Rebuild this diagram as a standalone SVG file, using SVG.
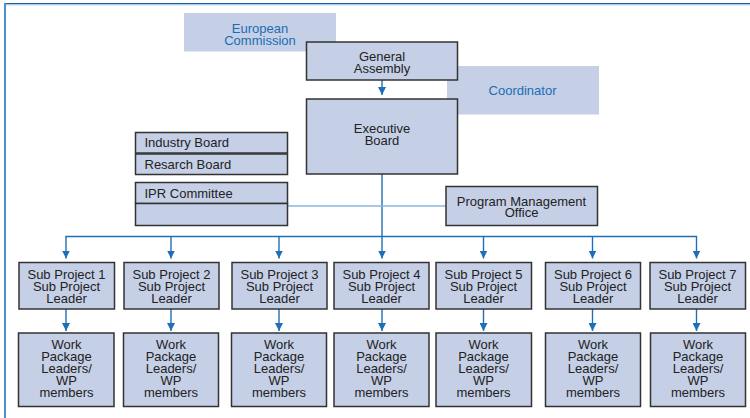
<svg xmlns="http://www.w3.org/2000/svg" width="750" height="418" viewBox="0 0 750 418">
<defs>
<style>
.box{fill:#c5cfe6;stroke:#333;stroke-width:1.5}
.pane{fill:#c5cfe6;stroke:none}
.t{font-family:"Liberation Sans",Arial,sans-serif;font-size:13px;fill:#222;text-anchor:middle}
.tl{font-family:"Liberation Sans",Arial,sans-serif;font-size:13px;fill:#222}
.tb{font-family:"Liberation Sans",Arial,sans-serif;font-size:13px;fill:#1a6db4;text-anchor:middle}
.c{stroke:#1f6fb6;stroke-width:1.4;fill:none}
.cl{stroke:#86b6dd;stroke-width:1.4;fill:none}
</style>
<marker id="ah" markerUnits="userSpaceOnUse" markerWidth="10" markerHeight="8" refX="8" refY="4" orient="auto">
<path d="M0,0 L8,4 L0,8 Z" fill="#1f6fb6"/>
</marker>
</defs>
<rect width="750" height="418" fill="#fff"/>
<g id="frame">
<line x1="4" y1="3.5" x2="750" y2="3.5" stroke="#1b5e9c" stroke-width="1.2"/>
<line x1="6" y1="4.8" x2="750" y2="4.8" stroke="#8cbbe0" stroke-width="1"/>
<line x1="5" y1="3" x2="5" y2="418" stroke="#4b92cc" stroke-width="2"/>
</g>
<g id="connectors">
<line class="c" x1="382" y1="80" x2="382" y2="95" marker-end="url(#ah)"/>
<line class="c" x1="382" y1="174" x2="382" y2="258.5" marker-end="url(#ah)"/>
<line class="c" x1="65.5" y1="236.5" x2="697" y2="236.5"/>
<line class="c" x1="66" y1="236" x2="66" y2="258.5" marker-end="url(#ah)"/>
<line class="c" x1="171" y1="236" x2="171" y2="258.5" marker-end="url(#ah)"/>
<line class="c" x1="279" y1="236" x2="279" y2="258.5" marker-end="url(#ah)"/>
<line class="c" x1="483.5" y1="236" x2="483.5" y2="258.5" marker-end="url(#ah)"/>
<line class="c" x1="592.5" y1="236" x2="592.5" y2="258.5" marker-end="url(#ah)"/>
<line class="c" x1="696.5" y1="236" x2="696.5" y2="258.5" marker-end="url(#ah)"/>
<line class="c" x1="66" y1="309" x2="66" y2="331" marker-end="url(#ah)"/>
<line class="c" x1="171" y1="309" x2="171" y2="331" marker-end="url(#ah)"/>
<line class="c" x1="279" y1="309" x2="279" y2="331" marker-end="url(#ah)"/>
<line class="c" x1="382" y1="309" x2="382" y2="331" marker-end="url(#ah)"/>
<line class="c" x1="483.5" y1="309" x2="483.5" y2="331" marker-end="url(#ah)"/>
<line class="c" x1="592.5" y1="309" x2="592.5" y2="331" marker-end="url(#ah)"/>
<line class="c" x1="696.5" y1="309" x2="696.5" y2="331" marker-end="url(#ah)"/>
<line class="cl" x1="288" y1="206" x2="446" y2="206"/>
</g>
<g id="european-commission">
<rect class="pane" x="184" y="13" width="152" height="38.5"/>
<text class="tb" x="260" y="32.5">European</text>
<text class="tb" x="260" y="44.5">Commission</text>
</g>
<g id="coordinator">
<rect class="pane" x="447" y="66" width="152" height="48.5"/>
<text class="tb" x="522.5" y="95">Coordinator</text>
</g>
<g id="general-assembly">
<rect class="box" x="306.5" y="42" width="151" height="38"/>
<text class="t" x="382" y="61">General</text>
<text class="t" x="382" y="73">Assembly</text>
</g>
<g id="executive-board">
<rect class="box" x="306.5" y="99" width="151" height="75"/>
<text class="t" x="382" y="133">Executive</text>
<text class="t" x="382" y="145">Board</text>
</g>
<g id="industry-board">
<rect class="box" x="135.5" y="132.5" width="152" height="20.5"/>
<text class="tl" x="144.5" y="147">Industry Board</text>
</g>
<g id="research-board">
<rect class="box" x="135.5" y="154" width="152" height="20.5"/>
<text class="tl" x="144.5" y="169">Resarch Board</text>
</g>
<g id="ipr-committee">
<rect class="box" x="135.5" y="182.5" width="152" height="21"/>
<rect class="box" x="135.5" y="203.5" width="152" height="22"/>
<text class="tl" x="144.5" y="197.5">IPR Committee</text>
</g>
<g id="program-management-office">
<rect class="box" x="446" y="186.5" width="151.5" height="39"/>
<text class="t" x="521.5" y="206">Program Management</text>
<text class="t" x="521.5" y="217">Office</text>
</g>
<g id="sp1">
<rect class="box" x="19" y="262.5" width="95.5" height="46.5"/>
<text class="t" x="66.5" y="278.5">Sub Project 1</text>
<text class="t" x="66.5" y="290.5">Sub Project</text>
<text class="t" x="66.5" y="302.5">Leader</text>
</g>
<g id="sp2">
<rect class="box" x="124" y="262.5" width="95" height="46.5"/>
<text class="t" x="171.5" y="278.5">Sub Project 2</text>
<text class="t" x="171.5" y="290.5">Sub Project</text>
<text class="t" x="171.5" y="302.5">Leader</text>
</g>
<g id="sp3">
<rect class="box" x="232" y="262.5" width="95" height="46.5"/>
<text class="t" x="279.5" y="278.5">Sub Project 3</text>
<text class="t" x="279.5" y="290.5">Sub Project</text>
<text class="t" x="279.5" y="302.5">Leader</text>
</g>
<g id="sp4">
<rect class="box" x="334" y="262.5" width="95" height="46.5"/>
<text class="t" x="381.5" y="278.5">Sub Project 4</text>
<text class="t" x="381.5" y="290.5">Sub Project</text>
<text class="t" x="381.5" y="302.5">Leader</text>
</g>
<g id="sp5">
<rect class="box" x="436" y="262.5" width="95.5" height="46.5"/>
<text class="t" x="483.5" y="278.5">Sub Project 5</text>
<text class="t" x="483.5" y="290.5">Sub Project</text>
<text class="t" x="483.5" y="302.5">Leader</text>
</g>
<g id="sp6">
<rect class="box" x="545.5" y="262.5" width="95" height="46.5"/>
<text class="t" x="593" y="278.5">Sub Project 6</text>
<text class="t" x="593" y="290.5">Sub Project</text>
<text class="t" x="593" y="302.5">Leader</text>
</g>
<g id="sp7">
<rect class="box" x="650" y="262.5" width="95.5" height="46.5"/>
<text class="t" x="697.5" y="278.5">Sub Project 7</text>
<text class="t" x="697.5" y="290.5">Sub Project</text>
<text class="t" x="697.5" y="302.5">Leader</text>
</g>
<g id="wp1">
<rect class="box" x="18.5" y="333" width="95.5" height="73.5"/>
<text class="t" x="66.5" y="349">Work</text>
<text class="t" x="66.5" y="361">Package</text>
<text class="t" x="66.5" y="373">Leaders/</text>
<text class="t" x="66.5" y="385">WP</text>
<text class="t" x="66.5" y="397">members</text>
</g>
<g id="wp2">
<rect class="box" x="123.5" y="333" width="95" height="73.5"/>
<text class="t" x="171" y="349">Work</text>
<text class="t" x="171" y="361">Package</text>
<text class="t" x="171" y="373">Leaders/</text>
<text class="t" x="171" y="385">WP</text>
<text class="t" x="171" y="397">members</text>
</g>
<g id="wp3">
<rect class="box" x="231.5" y="333" width="95" height="73.5"/>
<text class="t" x="279" y="349">Work</text>
<text class="t" x="279" y="361">Package</text>
<text class="t" x="279" y="373">Leaders/</text>
<text class="t" x="279" y="385">WP</text>
<text class="t" x="279" y="397">members</text>
</g>
<g id="wp4">
<rect class="box" x="334" y="333" width="95" height="73.5"/>
<text class="t" x="381.5" y="349">Work</text>
<text class="t" x="381.5" y="361">Package</text>
<text class="t" x="381.5" y="373">Leaders/</text>
<text class="t" x="381.5" y="385">WP</text>
<text class="t" x="381.5" y="397">members</text>
</g>
<g id="wp5">
<rect class="box" x="436" y="333" width="95.5" height="73.5"/>
<text class="t" x="483.5" y="349">Work</text>
<text class="t" x="483.5" y="361">Package</text>
<text class="t" x="483.5" y="373">Leaders/</text>
<text class="t" x="483.5" y="385">WP</text>
<text class="t" x="483.5" y="397">members</text>
</g>
<g id="wp6">
<rect class="box" x="545.5" y="333" width="95" height="73.5"/>
<text class="t" x="593" y="349">Work</text>
<text class="t" x="593" y="361">Package</text>
<text class="t" x="593" y="373">Leaders/</text>
<text class="t" x="593" y="385">WP</text>
<text class="t" x="593" y="397">members</text>
</g>
<g id="wp7">
<rect class="box" x="650.5" y="333" width="95" height="73.5"/>
<text class="t" x="698" y="349">Work</text>
<text class="t" x="698" y="361">Package</text>
<text class="t" x="698" y="373">Leaders/</text>
<text class="t" x="698" y="385">WP</text>
<text class="t" x="698" y="397">members</text>
</g>
</svg>
